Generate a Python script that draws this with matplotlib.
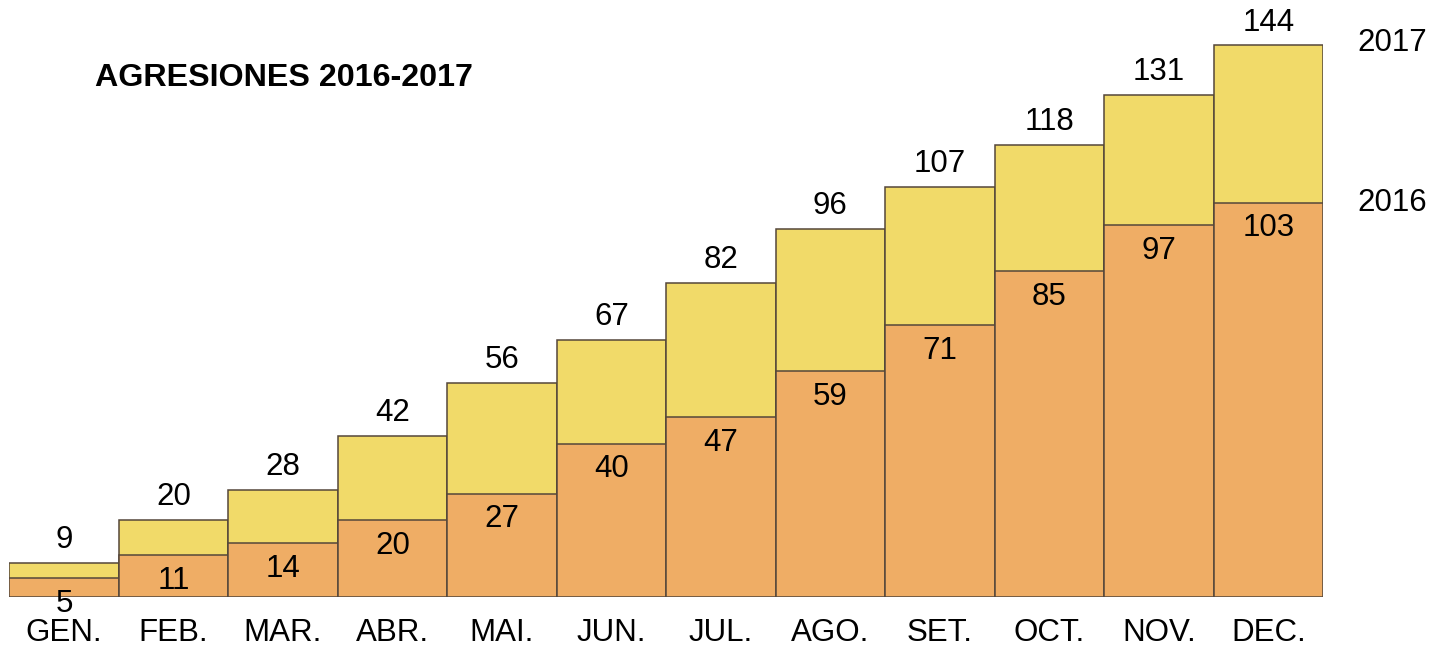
import numpy as np
import matplotlib.pyplot as plt

plt.rcParams['font.family'] = ['Liberation Sans', 'DejaVu Sans']

# datos
meses = ['GEN.', 'FEB.', 'MAR.', 'ABR.', 'MAI.', 'JUN.',
         'JUL.', 'AGO.', 'SET.', 'OCT.', 'NOV.', 'DEC.']
agresiones_2016 = [5, 11, 14, 20, 27, 40, 47, 59, 71, 85, 97, 103]
agresiones_2017 = [9, 20, 28, 42, 56, 67, 82, 96, 107, 118, 131, 144]

amarillo = '#F1DA69'
naranja = '#EFAD65'
borde = '#55473a'

fig = plt.figure(figsize=(14.45, 6.46), dpi=100)
ax = fig.add_axes([9.3 / 1445, 49 / 646, 1313.7 / 1445, 574.5 / 646])

x = np.arange(len(meses))
ax.bar(x, agresiones_2017, width=1.0, color=amarillo, edgecolor=borde, linewidth=1.1)
ax.bar(x, agresiones_2016, width=1.0, color=naranja, edgecolor=borde, linewidth=1.1)

ax.set_xlim(-0.5, len(meses) - 0.5)
ax.set_ylim(0, 150)

# etiquetas de valores
for i in range(len(meses)):
    ax.annotate(str(agresiones_2017[i]), (x[i], agresiones_2017[i]),
                xytext=(0, 16.5), textcoords='offset points',
                ha='center', va='center', fontsize=22.5)
    ax.annotate(str(agresiones_2016[i]), (x[i], agresiones_2016[i]),
                xytext=(0, -18.5), textcoords='offset points',
                ha='center', va='center', fontsize=22.5, annotation_clip=False)
    ax.annotate(meses[i], (x[i], 0), xytext=(0, -26), textcoords='offset points',
                ha='center', va='center', fontsize=22.5, annotation_clip=False)

# etiquetas de series
ax.annotate('2017', (x[-1], agresiones_2017[-1]), xytext=(89, 2), textcoords='offset points',
            ha='center', va='center', fontsize=22.5, annotation_clip=False)
ax.annotate('2016', (x[-1], agresiones_2016[-1]), xytext=(89, 0), textcoords='offset points',
            ha='center', va='center', fontsize=22.5, annotation_clip=False)

fig.text(95 / 1445, 1 - 78 / 646, 'AGRESIONES 2016-2017', fontsize=23.2,
         fontweight='bold', ha='left', va='center')

ax.axis('off')

fig.savefig('out.png', dpi=100)
